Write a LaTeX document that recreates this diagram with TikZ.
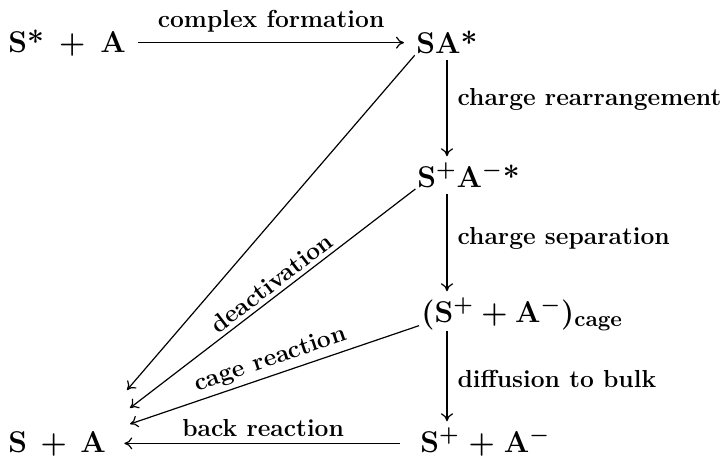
\documentclass[tikz,border=0pt]{standalone}
\usetikzlibrary{arrows.meta}
\begin{document}
\begin{tikzpicture}[x=0.5pt, y=-0.5pt, >={To[length=4pt,width=6pt]},
        chem/.style={inner sep=0pt, anchor=base west, font=\fontsize{15}{18}\selectfont\bfseries\boldmath},
        lbl/.style={inner sep=2pt, font=\fontsize{12.3}{15}\selectfont\bfseries},
        step arrow/.style={->, semithick, shorten <=3pt, shorten >=3pt}]
        \useasboundingbox (0,0) rectangle (725,457);

        % species
        \node[chem] (sa) at (8,52) {S*\hspace{0.5em}+\hspace{0.5em}A};
        \node[chem] (sastar) at (416,53) {SA*};
        \node[chem] (ion) at (417,187) {S$^{+}$A$^{-}$*};
        \node[chem] (cage) at (421,322) {(S$^{+}$\hspace{0.25em}+\hspace{0.25em}A$^{-}$)$_{\mathbf{cage}}$};
        \node[chem] (bulk) at (420,452) {S$^{+}$\hspace{0.3em}+\hspace{0.3em}A$^{-}$};
        \node[chem] (spa) at (8,452) {S\hspace{0.45em}+\hspace{0.45em}A};

        \coordinate (col) at (447,0);
        \coordinate (d1) at (127,390);
        \coordinate (d2) at (130,408);
        \coordinate (d3) at (130,424);

        % main sequence
        \draw[step arrow, shorten <=6pt, shorten >=6pt] (sa.east) -- (sa.east -| sastar.west)
            node[lbl, midway, above=3pt] {complex formation};
        \draw[step arrow] (sastar.south -| col) -- (ion.north -| col)
            node[lbl, pos=0.42, right=3pt] {charge rearrangement};
        \draw[step arrow] (ion.south -| col) -- (cage.north -| col)
            node[lbl, pos=0.46, right=3pt] {charge separation};
        \draw[step arrow, shorten <=0pt] (cage.south -| col) -- (bulk.north -| col)
            node[lbl, midway, right=3pt] {diffusion to bulk};

        % decay paths
        \draw[<-, semithick, shorten >=1pt] (d1) -- (sastar.south west);
        \draw[<-, semithick, shorten >=1pt] (d2) -- (ion.south west)
            node[lbl, pos=0.52, above, sloped] {deactivation};
        \draw[<-, semithick, shorten >=1pt] (d3) -- ([yshift=3pt]cage.south west)
            node[lbl, midway, above, sloped] {cage reaction};
        \draw[<-, semithick, shorten <=9pt, shorten >=10pt] (spa.east) -- (spa.east -| bulk.west)
            node[lbl, midway, above=1pt] {back reaction};
\end{tikzpicture}
\end{document}
